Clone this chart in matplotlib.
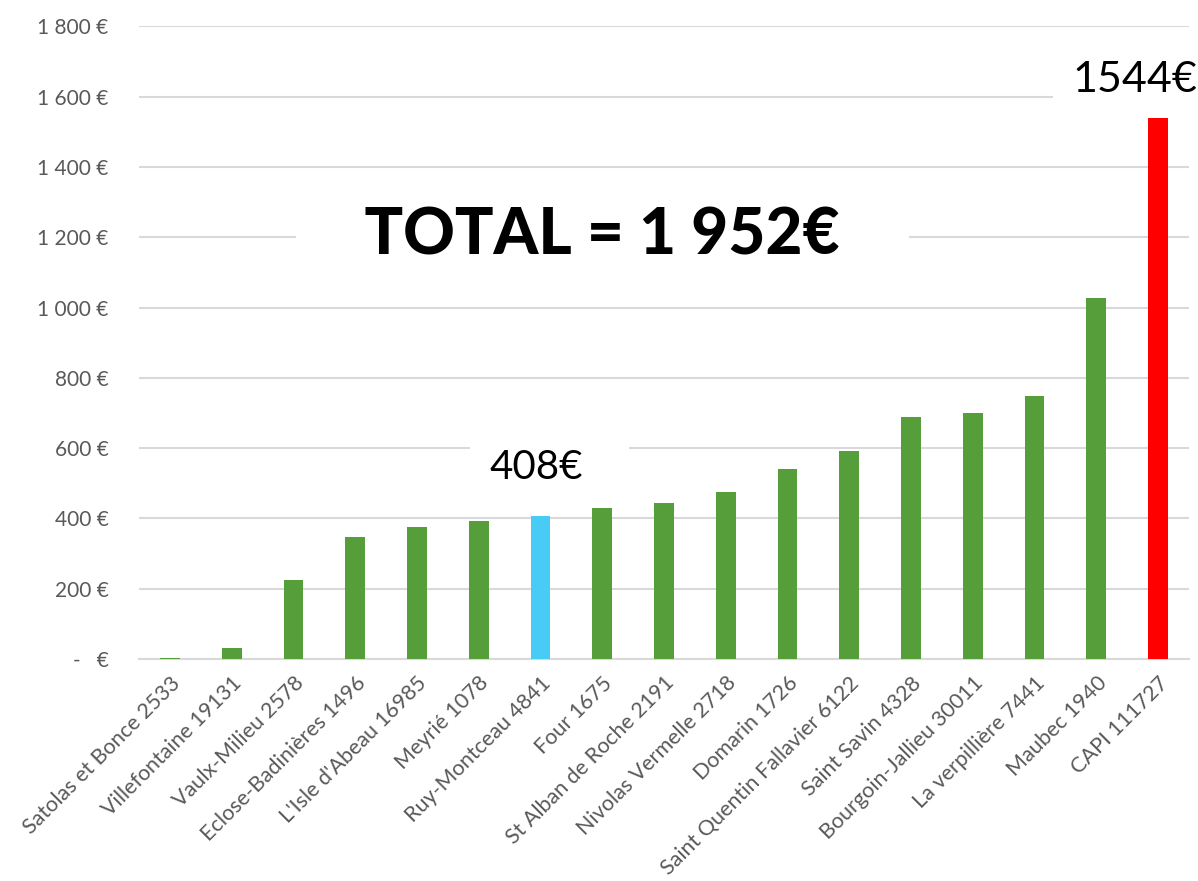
import matplotlib.pyplot as plt
from matplotlib.ticker import FuncFormatter

# -------------------------
# DATA
# -------------------------
communes = [
    "Satolas et Bonce 2533", "Villefontaine 19131", "Vaulx-Milieu 2578",
    "Eclose-Badinières 1496", "L'Isle d'Abeau 16985", "Meyrié 1078",
    "Ruy-Montceau 4841", "Four 1675", "St Alban de Roche 2191",
    "Nivolas Vermelle 2718", "Domarin 1726", "Saint Quentin Fallavier 6122",
    "Saint Savin 4328", "Bourgoin-Jallieu 30011", "La verpillière 7441",
    "Maubec 1940", "CAPI 111727",
]
montants = [3, 32, 224, 348, 375, 393, 408, 429, 443, 475, 542, 592,
            689, 700, 747, 1027, 1544]
highlight = {"Ruy-Montceau 4841": "#48CBF5", "CAPI 111727": "#FF0000"}
y_ticks = [0, 200, 400, 600, 800, 1000, 1200, 1400, 1600, 1800]
total_label = "TOTAL = 1 952€"

GREEN = "#559E3A"
GRID = "#D9D9D9"
TICK_COLOR = "#595959"

plt.rcParams["font.family"] = ["Lato", "DejaVu Sans"]


def euro_fmt(v, _pos):
    if v == 0:
        return "-   €"
    return f"{int(v):,} €".replace(",", " ")


# -------------------------
# PLOT
# -------------------------
fig = plt.figure(figsize=(11.98, 8.81), dpi=100)
ax = fig.add_axes([0.116, 0.252, 0.8765, 0.718])

colors = [highlight.get(c, GREEN) for c in communes]
x = range(len(communes))
ax.bar(x, montants, width=0.32, color=colors, zorder=3)

ax.set_xlim(-0.5, len(communes) - 0.5)
ax.set_ylim(0, 1800)
ax.set_yticks(y_ticks)
ax.yaxis.set_major_formatter(FuncFormatter(euro_fmt))
ax.grid(axis="y", color=GRID, linewidth=1.5, zorder=0)
ax.set_axisbelow(True)

for side in ["top", "right", "left"]:
    ax.spines[side].set_visible(False)
ax.spines["bottom"].set_color(GRID)
ax.spines["bottom"].set_linewidth(1.5)

ax.tick_params(axis="y", length=0, pad=22, labelsize=15, labelcolor=TICK_COLOR)
ax.tick_params(axis="x", length=0, pad=10, labelsize=15.5, labelcolor=TICK_COLOR)
ax.set_xticks(list(x))
ax.set_xticklabels(communes, rotation=45, ha="right", rotation_mode="anchor")

# annotations with white boxes hiding the gridlines
ax.text(7.0, 1205, "    " + total_label + "    ", ha="center", va="center",
        fontsize=46, fontweight="black", color="black",
        bbox=dict(facecolor="white", edgecolor="none", pad=6), zorder=4)

i_ruy = communes.index("Ruy-Montceau 4841")
ax.text(i_ruy - 0.07, 545, f"{montants[i_ruy]}€", ha="center", va="center",
        fontsize=29, color="black",
        bbox=dict(facecolor="white", edgecolor="none", pad=14), zorder=4)
# extra white space right of the label (the gap is wider on that side)
ax.text(i_ruy + 1.09, 545, "  ", ha="center", va="center", fontsize=29,
        bbox=dict(facecolor="white", edgecolor="none", pad=8), zorder=4)

i_capi = communes.index("CAPI 111727")
ax.text(i_capi - 0.38, 1648, f"{montants[i_capi]}€", ha="center", va="center",
        fontsize=31, color="black",
        bbox=dict(facecolor="white", edgecolor="none", pad=14),
        zorder=4, clip_on=False)

fig.savefig("out.png", dpi=100, facecolor="white")
plt.close(fig)
